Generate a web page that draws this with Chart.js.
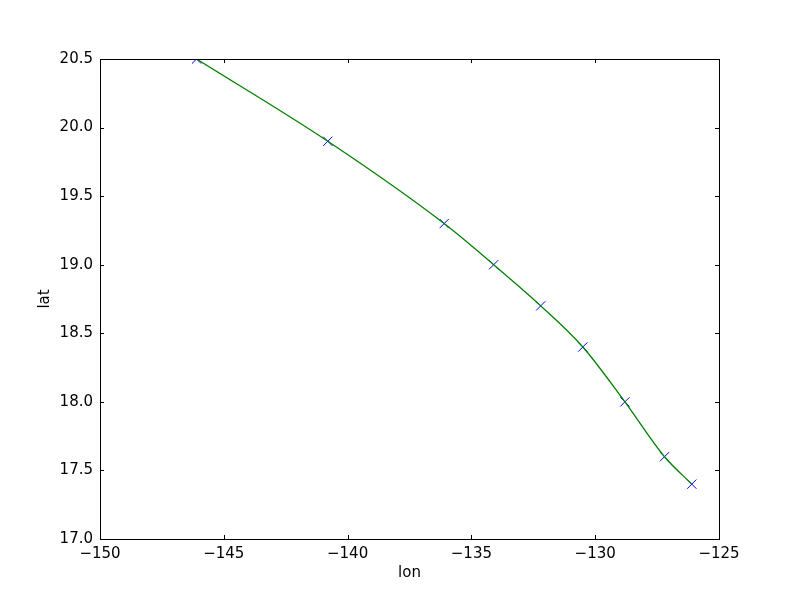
<!DOCTYPE html>
<html>
<head>
<meta charset="utf-8">
<script src="https://cdn.jsdelivr.net/npm/chart.js@4"></script>
<style>
  html, body { margin: 0; padding: 0; background: #fff; }
  #wrap { width: 800px; height: 600px; }
</style>
</head>
<body>
<div id="wrap"><canvas id="myChart" width="800" height="600"></canvas></div>
<script>
// track points
const lon = [-146.1, -140.8, -136.1, -134.1, -132.2, -130.5, -128.8, -127.2, -126.1];
const lat = [20.5, 19.9, 19.3, 19.0, 18.7, 18.4, 18.0, 17.6, 17.4];

const xTicks = [-150, -145, -140, -135, -130, -125];
const yTicks = [17.0, 17.5, 18.0, 18.5, 19.0, 19.5, 20.0, 20.5];

const pts = lon.map((v, i) => ({ x: v, y: lat[i] }));

function fmtX(v) {
  return (v < 0 ? '\u2212' : '') + Math.abs(v);
}

// frame and inward ticks, like the old matplotlib look
const frameTicks = {
  id: 'frameTicks',
  afterDraw(chart) {
    const ctx = chart.ctx;
    const a = chart.chartArea;
    const xs = chart.scales.x, ys = chart.scales.y;
    const len = 4;
    ctx.save();
    ctx.strokeStyle = '#000';
    ctx.lineWidth = 1;
    ctx.beginPath();
    xTicks.forEach(t => {
      const px = Math.round(xs.getPixelForValue(t)) + 0.5;
      ctx.moveTo(px, a.bottom); ctx.lineTo(px, a.bottom - len);
      ctx.moveTo(px, a.top); ctx.lineTo(px, a.top + len);
    });
    yTicks.forEach(t => {
      const py = Math.round(ys.getPixelForValue(t)) + 0.5;
      ctx.moveTo(a.left, py); ctx.lineTo(a.left + len, py);
      ctx.moveTo(a.right, py); ctx.lineTo(a.right - len, py);
    });
    ctx.stroke();
    ctx.strokeRect(Math.round(a.left) + 0.5, Math.round(a.top) + 0.5,
      Math.round(a.right - a.left), Math.round(a.bottom - a.top));
    ctx.restore();
  }
};

const config = {
  type: 'scatter',
  data: {
    datasets: [{
      label: 'spline',
      data: pts,
      showLine: true,
      borderColor: '#008000',
      borderWidth: 1.3,
      pointRadius: 0,
      cubicInterpolationMode: 'monotone',
      order: 0
    },
    {
      label: 'points',
      data: pts,
      showLine: false,
      pointStyle: 'crossRot',
      pointRadius: 6.5,
      borderColor: '#0000ff',
      borderWidth: 1,
      order: 1
    }]
  },
  options: {
    responsive: false,
    animation: false,
    layout: {
      padding: { left: 0, top: 59, right: 81, bottom: 0 }
    },
    plugins: {
      legend: { display: false },
      tooltip: { enabled: false }
    },
    scales: {
      x: {
        type: 'linear',
        min: -150,
        max: -125,
        afterBuildTicks: s => { s.ticks = xTicks.map(v => ({ value: v })); },
        afterFit: s => { s.height = 61; },
        grid: { display: false, drawTicks: false, tickLength: 0 },
        border: { display: false },
        ticks: {
          color: '#000',
          padding: 6,
          maxRotation: 0,
          font: { family: 'DejaVu Sans', size: 15 },
          callback: v => fmtX(v)
        },
        title: {
          display: true,
          text: 'lon',
          color: '#000',
          padding: { top: 0, bottom: 18 },
          font: { family: 'DejaVu Sans', size: 15 }
        }
      },
      y: {
        type: 'linear',
        min: 17.0,
        max: 20.5,
        afterBuildTicks: s => { s.ticks = yTicks.map(v => ({ value: v })); },
        afterFit: s => { s.width = 100; },
        grid: { display: false, drawTicks: false, tickLength: 0 },
        border: { display: false },
        ticks: {
          color: '#000',
          padding: 7,
          font: { family: 'DejaVu Sans', size: 15 },
          callback: v => Number(v).toFixed(1)
        },
        title: {
          display: true,
          text: 'lat',
          color: '#000',
          padding: { top: 36, bottom: 0 },
          font: { family: 'DejaVu Sans', size: 15 }
        }
      }
    }
  },
  plugins: [frameTicks]
};

const myChart = new Chart(document.getElementById('myChart'), config);
</script>
</body>
</html>
